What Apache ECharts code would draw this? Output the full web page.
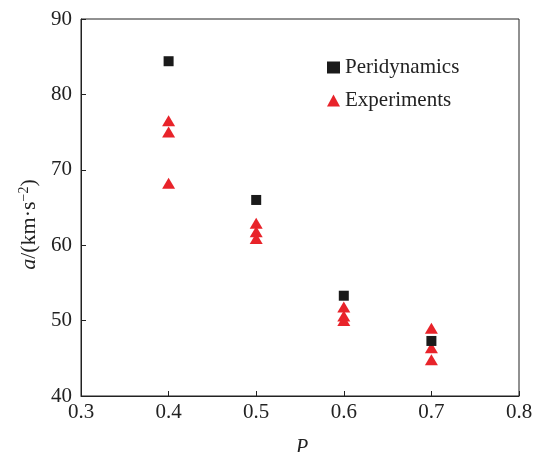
<!DOCTYPE html>
<html>
<head>
<meta charset="utf-8">
<script src="https://cdn.jsdelivr.net/npm/echarts@6/dist/echarts.min.js"></script>
<style>
  html, body { margin: 0; padding: 0; background: #fff; }
  #chart { width: 536px; height: 452px; }
</style>
</head>
<body>
<div id="chart"></div>
<script>
// data
var periX = [0.4, 0.5, 0.6, 0.7];
var periY = [84.4, 66.0, 53.3, 47.3];
var expX = [0.4, 0.4, 0.4, 0.5, 0.5, 0.5, 0.6, 0.6, 0.6, 0.7, 0.7, 0.7];
var expY = [76.5, 75.0, 68.2, 62.9, 61.8, 60.9, 51.8, 50.6, 50.0, 49.0, 46.4, 44.8];
var seriesNames = ['Peridynamics', 'Experiments'];

function pairs(xs, ys) {
    return xs.map(function (x, i) { return [x, ys[i]]; });
}

var serif = '"Liberation Serif", "DejaVu Serif", serif';
var myChart = echarts.init(document.getElementById('chart'));
var option = {
    animation: false,
    grid: {
        left: 81,
        right: 17,
        top: 19,
        bottom: 56,
        outerBoundsMode: 'none',
        containLabel: false,
        show: true,
        borderColor: '#222',
        borderWidth: 1
    },
    legend: {
        left: 322,
        top: 52,
        orient: 'vertical',
        itemGap: 12,
        itemWidth: 13,
        itemHeight: 12,
        textStyle: { fontFamily: serif, fontSize: 21, color: '#222', padding: [0, 0, 0, 0] },
        data: [
            { name: seriesNames[0], icon: 'rect', itemStyle: { color: '#1a1a1a' } },
            { name: seriesNames[1], icon: 'triangle', itemStyle: { color: '#e8232a' } }
        ]
    },
    xAxis: {
        type: 'value',
        min: 0.3,
        max: 0.8,
        interval: 0.1,
        name: 'P',
        nameLocation: 'middle',
        nameGap: 42,
        nameTextStyle: { fontFamily: serif, fontSize: 20, fontStyle: 'italic', color: '#222', padding: [0, 0, 0, 4] },
        axisLine: { lineStyle: { color: '#222' } },
        axisTick: { inside: true, length: 5, lineStyle: { color: '#222' } },
        splitLine: { show: false },
        axisLabel: {
            fontFamily: serif, fontSize: 21, color: '#222', margin: 6,
            formatter: function (v) { return v.toFixed(1); }
        }
    },
    yAxis: {
        type: 'value',
        min: 40,
        max: 90,
        interval: 10,
        name: '{i|a}/(km·s{sup|−2})',
        nameLocation: 'middle',
        nameGap: 40,
        nameTextStyle: {
            fontFamily: serif, fontSize: 22, color: '#222',
            padding: [0, 34, 0, 0],
            rich: {
                i: { fontFamily: serif, fontSize: 22, fontStyle: 'italic', color: '#222' },
                sup: { fontFamily: serif, fontSize: 14, color: '#222', verticalAlign: 'top', padding: [0, 0, 10, 0] }
            }
        },
        axisLine: { lineStyle: { color: '#222' } },
        axisTick: { inside: true, length: 5, lineStyle: { color: '#222' } },
        splitLine: { show: false },
        axisLabel: { fontFamily: serif, fontSize: 21, color: '#222', margin: 9 }
    },
    series: [
        {
            name: seriesNames[0],
            type: 'scatter',
            symbol: 'rect',
            symbolSize: 10,
            itemStyle: { color: '#1a1a1a', opacity: 1 },
            data: pairs(periX, periY),
            z: 3
        },
        {
            name: seriesNames[1],
            type: 'scatter',
            symbol: 'triangle',
            symbolSize: [13, 11],
            itemStyle: { color: '#e8232a', opacity: 1 },
            data: pairs(expX, expY),
            z: 2
        }
    ]
};
myChart.setOption(option);
</script>
</body>
</html>
